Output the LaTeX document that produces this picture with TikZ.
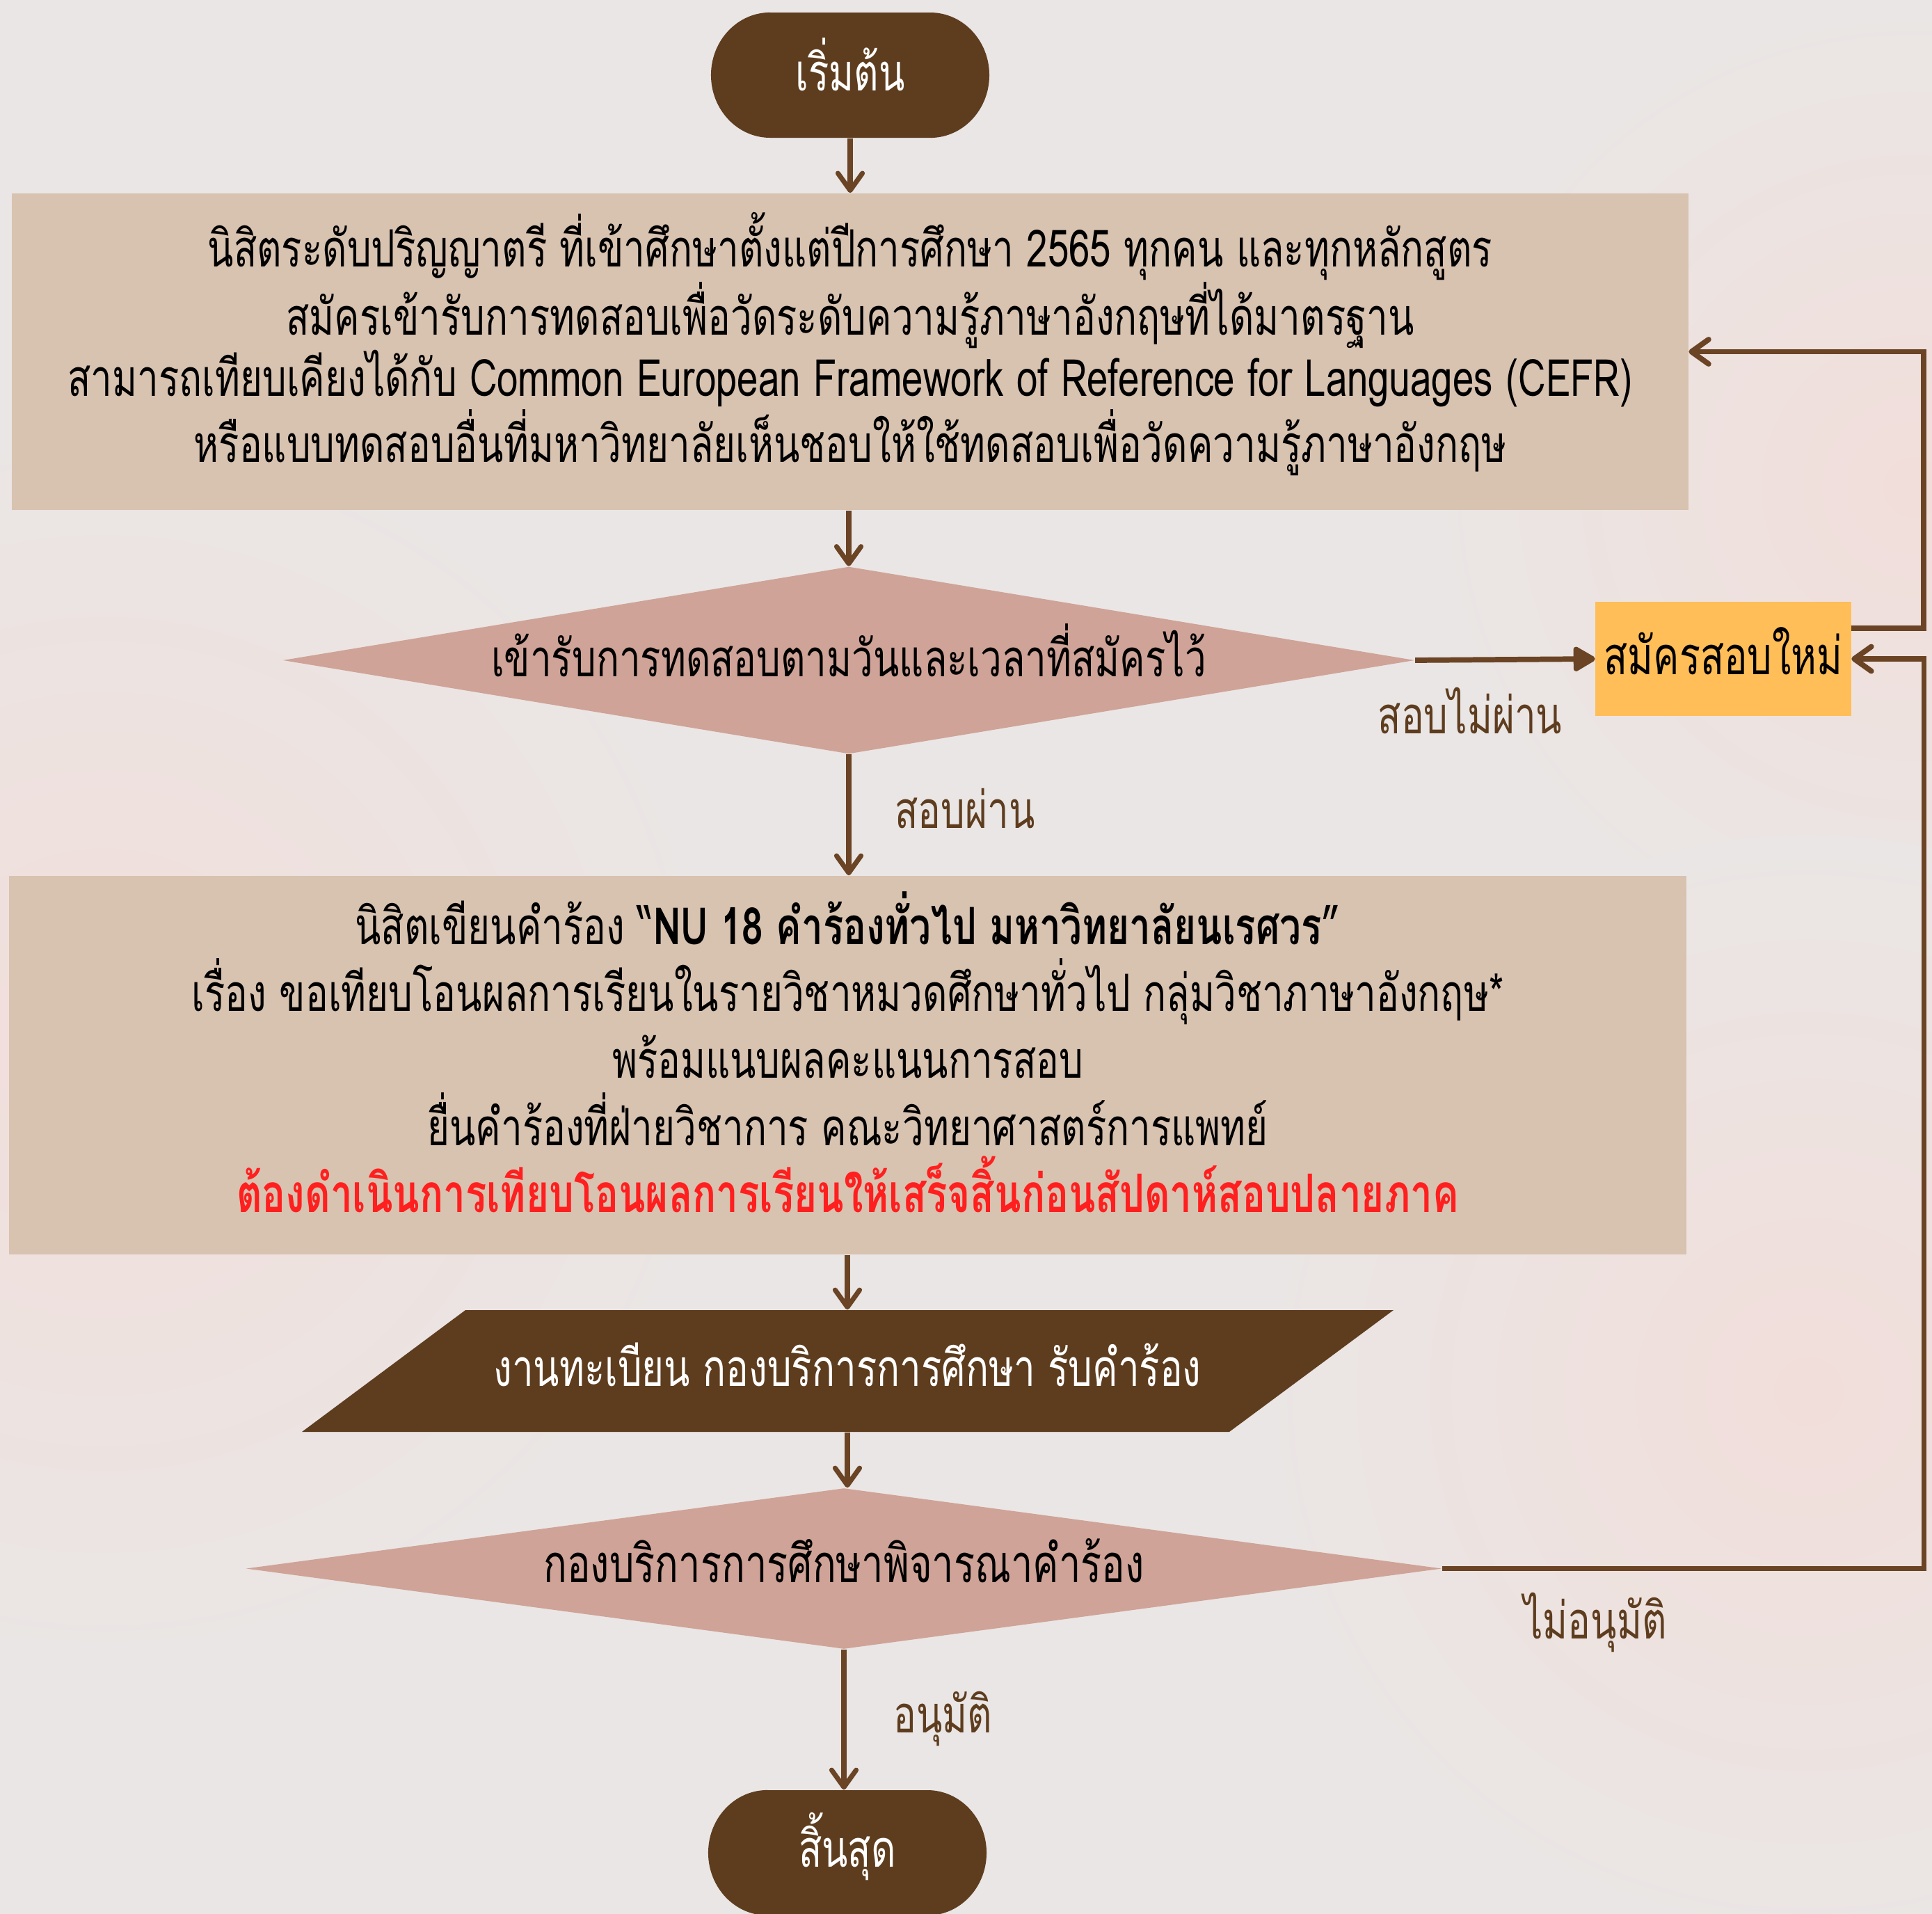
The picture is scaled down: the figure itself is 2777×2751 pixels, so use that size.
\documentclass[tikz,border=0pt]{standalone}
\usepackage{fontspec}
\usetikzlibrary{shapes.geometric,arrows.meta}
\newfontfamily\thai[Script=Thai,FakeStretch=0.74]{Loma}
\newcommand\tsz[2]{\fontsize{#1}{#2}\selectfont}
\newcommand\up[2]{\raisebox{#1}[\height][\depth]{#2}}
\definecolor{bgc}{HTML}{EAE6E5}
\definecolor{blob}{HTML}{F1DEDA}
\definecolor{boxc}{HTML}{D8C2B0}
\definecolor{dia}{HTML}{CFA397}
\definecolor{dbrown}{HTML}{5E3D1F}
\definecolor{arrc}{HTML}{6A4424}
\definecolor{orng}{HTML}{FFBE57}
\definecolor{redtxt}{HTML}{FF1F1F}
\tikzset{
  box/.style={rectangle, fill=boxc, inner sep=0pt},
  boxtext/.style={inner sep=0pt, align=center, text=black},
  decision/.style={diamond, fill=dia, inner sep=0pt, aspect=6, text=black},
  termtxt/.style={rectangle, inner sep=0pt, minimum width=4cm, minimum height=1.8cm, text=white},
  lbl/.style={text=dbrown, inner sep=0pt},
  arr/.style={draw=arrc, line width=2pt, -{Straight Barb[round,length=7pt,width=10pt,line width=2pt]}},
  looparr/.style={draw=arrc, line width=2.2pt, -{Straight Barb[round,length=7pt,width=10pt,line width=2.2pt]}},
}
\begin{document}
\begin{tikzpicture}[x=0.01cm,y=-0.01cm, font=\thai\tsz{21}{25}]
\useasboundingbox (0,0) rectangle (2777,2751);
\fill[bgc] (0,0) rectangle (2777,2751);
\begin{scope}
\clip (0,0) rectangle (2777,2751);
\shade[inner color=blob, outer color=bgc] (150,1500) circle (900);
\shade[inner color=blob, outer color=bgc] (2750,700) circle (700);
\shade[inner color=blob, outer color=bgc] (2600,2000) circle (800);
\end{scope}

% start terminal
\fill[dbrown] (1107,18) -- (1337,18) arc[start angle=90,end angle=-90,x radius=0.85cm,y radius=0.9cm]
  -- (1107,198) arc[start angle=270,end angle=90,x radius=0.85cm,y radius=0.9cm] -- cycle;
\node[termtxt] (start) at (1222,108) {\up{0.15cm}{เริ่มต้น}};

% box 1
\node[box, minimum width=24.08cm, minimum height=4.55cm] (b1) at (1222,505.5) {};
\node[boxtext, font=\thai\tsz{21}{25}] (t1) at ([yshift=0.11cm]b1.center)
{นิสิตระดับปริญญาตรี ที่เข้าศึกษาตั้งแต่ปีการศึกษา 2565 ทุกคน และทุกหลักสูตร\\
สมัครเข้ารับการทดสอบเพื่อวัดระดับความรู้ภาษาอังกฤษที่ได้มาตรฐาน\\
สามารถเทียบเคียงได้กับ Common European Framework of Reference for Languages (CEFR)\\
หรือแบบทดสอบอื่นที่มหาวิทยาลัยเห็นชอบให้ใช้ทดสอบเพื่อวัดความรู้ภาษาอังกฤษ};

% decision 1
\node[decision, minimum width=16.26cm, minimum height=2.69cm] (d1) at (1220,949) {\up{0.14cm}{เข้ารับการทดสอบตามวันและเวลาที่สมัครไว้}};

% orange box
\node[rectangle, fill=orng, minimum width=3.67cm, minimum height=1.63cm, inner sep=0pt, font=\thai\tsz{21.5}{25}] (o) at (2477,947) {\up{0.11cm}{สมัครสอบใหม่}};

% box 2
\node[box, minimum width=24.09cm, minimum height=5.44cm] (b2) at (1218.5,1531) {};
\node[boxtext, font=\thai\tsz{21}{27.4}] (t2) at ([yshift=0.19cm]b2.center)
{นิสิตเขียนคำร้อง “{\bfseries NU 18 คำร้องทั่วไป มหาวิทยาลัยนเรศวร}”\\
เรื่อง ขอเทียบโอนผลการเรียนในรายวิชาหมวดศึกษาทั่วไป กลุ่มวิชาภาษาอังกฤษ*\\
พร้อมแนบผลคะแนนการสอบ\\
ยื่นคำร้องที่ฝ่ายวิชาการ คณะวิทยาศาสตร์การแพทย์\\
{\color{redtxt}\bfseries\tsz{21.7}{27.4}ต้องดำเนินการเทียบโอนผลการเรียนให้เสร็จสิ้นก่อนสัปดาห์สอบปลายภาค}};

% parallelogram
\fill[dbrown] (669,1883) -- (2003,1883) -- (1767,2058) -- (434,2058) -- cycle;
\node[rectangle, inner sep=0pt, minimum width=13.34cm, minimum height=1.75cm, text=white] (p) at (1218,1970.5) {\up{0.09cm}{งานทะเบียน กองบริการการศึกษา รับคำร้อง}};

% decision 2
\node[decision, minimum width=17.18cm, minimum height=2.31cm, font=\thai\tsz{21.5}{25}] (d2) at (1213,2254.5) {\up{0.11cm}{กองบริการการศึกษาพิจารณาคำร้อง}};

% end terminal
\fill[dbrown] (1103,2573) -- (1333,2573) arc[start angle=90,end angle=-90,x radius=0.85cm,y radius=0.9cm]
  -- (1103,2753) arc[start angle=270,end angle=90,x radius=0.85cm,y radius=0.9cm] -- cycle;
\node[termtxt] (end) at (1218,2663) {\up{0.09cm}{สิ้นสุด}};

% labels
\node[lbl] (lfail) at (2113,1022) {สอบไม่ผ่าน};
\node[lbl] (lpass) at (1387,1162) {สอบผ่าน};
\node[lbl] (lok) at (1355,2470) {อนุมัติ};
\node[lbl] (lno) at (2293,2332) {ไม่อนุมัติ};

% connectors
\draw[arr] (start.south) -- (b1.north -| start.south);
\draw[arr] (b1.south -| d1.north) -- (d1.north);
\draw[arr] (d1.south) -- (b2.north -| d1.south);
\draw[arr] (b2.south -| p.north) -- (p.north);
\draw[arr] (p.south) -- (d2.north -| p.south);
\draw[arr] (d2.south) -- (end.north -| d2.south);
\draw[draw=arrc, line width=2.2pt, -{Triangle[length=10pt,width=11pt,round]}] (d1.east) -- (o.west);
\draw[looparr] ([yshift=0.44cm]o.east) -- ++(104,0) |- (b1.east);
\draw[looparr] (d2.east) -| ([xshift=1.04cm]o.east) -- (o.east);
\end{tikzpicture}
\end{document}
